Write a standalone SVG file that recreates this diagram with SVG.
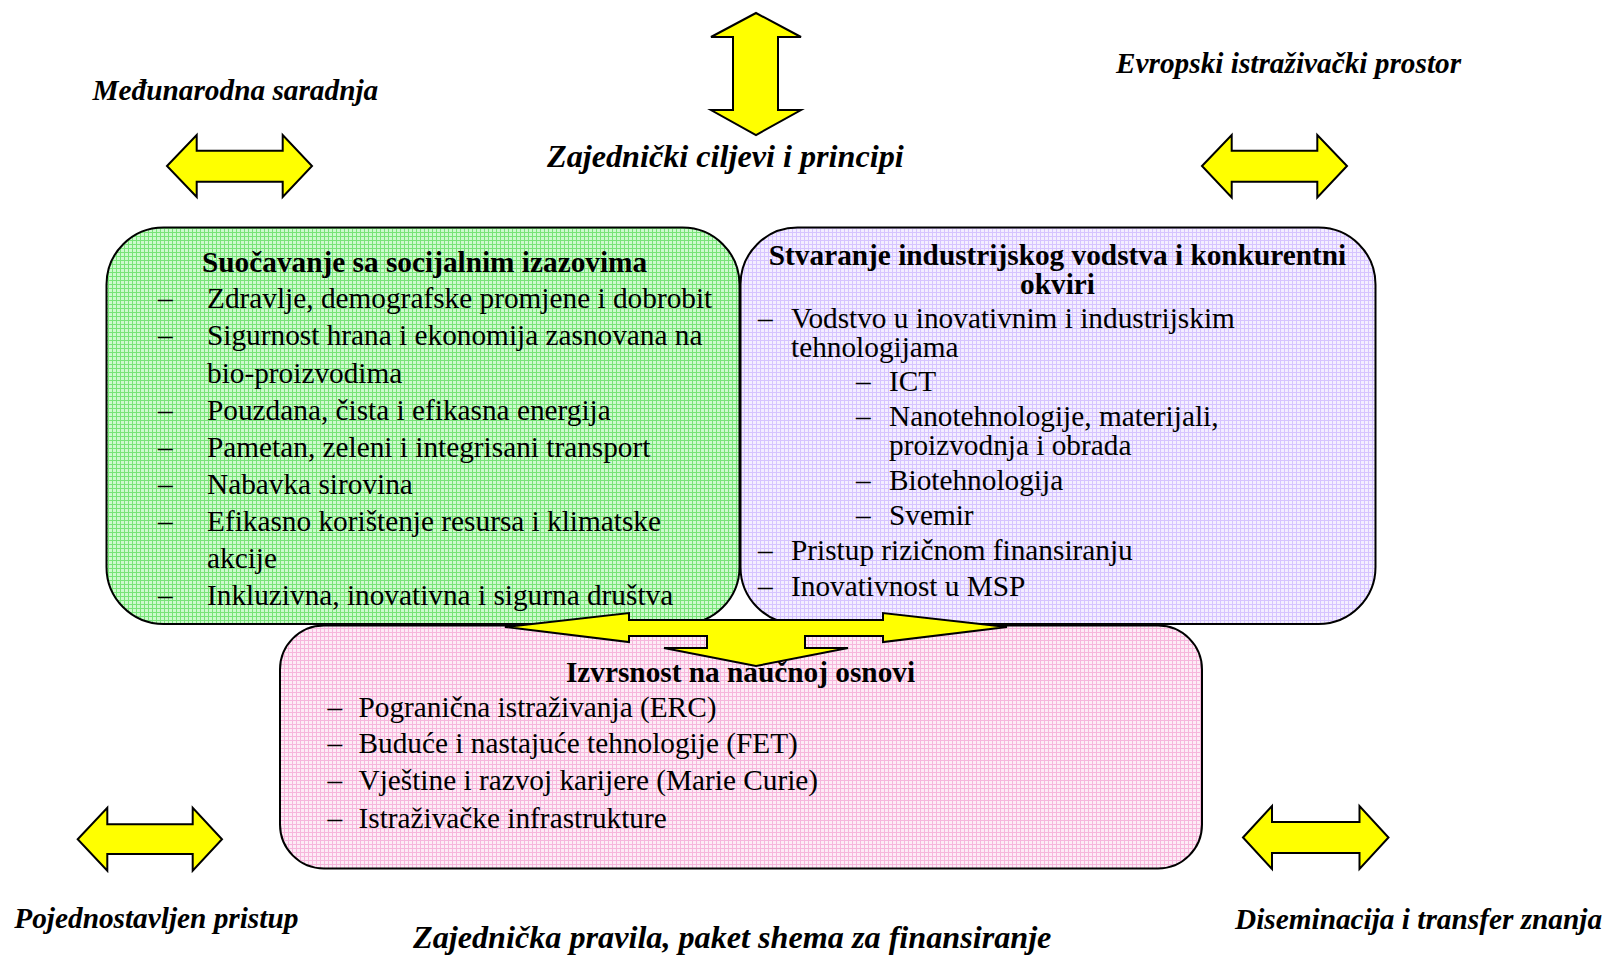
<svg xmlns="http://www.w3.org/2000/svg" width="1606" height="955" viewBox="0 0 1606 955">
<style>
.box{stroke:#000;stroke-width:2}
.t{font-family:"Liberation Serif","Times New Roman",serif;font-size:29.3px;fill:#000}
.b{font-weight:bold}
.lbl{font-family:"Liberation Serif","Times New Roman",serif;font-weight:bold;font-style:italic;font-size:29.3px;fill:#000}
.big{font-size:32.2px}
.arr{fill:#ffff00;stroke:#000;stroke-width:2;stroke-linejoin:miter}
</style>
<defs>
<pattern id="pg" width="4" height="4" patternUnits="userSpaceOnUse">
<rect width="4" height="4" fill="#cdfacd"/>
<path d="M0 0.5H4M0.5 0V4" stroke="#78e478" stroke-width="1" shape-rendering="crispEdges"/>
</pattern>
<pattern id="pp" width="4" height="4" patternUnits="userSpaceOnUse">
<rect width="4" height="4" fill="#f4eeff"/>
<path d="M0 0.5H4M0.5 0V4" stroke="#d6c4ff" stroke-width="1" shape-rendering="crispEdges"/>
</pattern>
<pattern id="pk" width="4" height="4" patternUnits="userSpaceOnUse">
<rect width="4" height="4" fill="#fdecf6"/>
<path d="M0 0.5H4M0.5 0V4" stroke="#f6b6dc" stroke-width="1" shape-rendering="crispEdges"/>
</pattern>
</defs>
<rect width="1606" height="955" fill="#fff"/>

<g id="node-social">
<rect class="box" x="106.5" y="227.5" width="633" height="396.5" rx="57" ry="57" fill="url(#pg)"/>
<text class="t b" x="202" y="272">Suočavanje sa socijalnim izazovima</text>
<g class="t">
<text x="158" y="308.3">–</text><text x="207" y="308.3">Zdravlje, demografske promjene i dobrobit</text>
<text x="158" y="345.4">–</text><text x="207" y="345.4">Sigurnost hrana i ekonomija zasnovana na</text>
<text x="207" y="382.5">bio-proizvodima</text>
<text x="158" y="419.6">–</text><text x="207" y="419.6">Pouzdana, čista i efikasna energija</text>
<text x="158" y="456.7">–</text><text x="207" y="456.7">Pametan, zeleni i integrisani transport</text>
<text x="158" y="493.8">–</text><text x="207" y="493.8">Nabavka sirovina</text>
<text x="158" y="530.9">–</text><text x="207" y="530.9">Efikasno korištenje resursa i klimatske</text>
<text x="207" y="568">akcije</text>
<text x="158" y="605">–</text><text x="207" y="605">Inkluzivna, inovativna i sigurna društva</text>
</g>
</g>

<g id="node-industry">
<rect class="box" x="740.5" y="227.5" width="635" height="396.5" rx="57" ry="57" fill="url(#pp)"/>
<text class="t b" x="1057.5" y="265.3" text-anchor="middle">Stvaranje industrijskog vodstva i konkurentni</text>
<text class="t b" x="1057.5" y="294" text-anchor="middle">okviri</text>
<g class="t">
<text x="758" y="327.8">–</text><text x="791" y="327.8">Vodstvo u inovativnim i industrijskim</text>
<text x="791" y="356.5">tehnologijama</text>
<text x="856" y="390.8">–</text><text x="889" y="390.8">ICT</text>
<text x="856" y="426.2">–</text><text x="889" y="426.2">Nanotehnologije, materijali,</text>
<text x="889" y="454.8">proizvodnja i obrada</text>
<text x="856" y="489.6">–</text><text x="889" y="489.6">Biotehnologija</text>
<text x="856" y="524.5">–</text><text x="889" y="524.5">Svemir</text>
<text x="758" y="559.8">–</text><text x="791" y="559.8">Pristup rizičnom finansiranju</text>
<text x="758" y="595.6">–</text><text x="791" y="595.6">Inovativnost u MSP</text>
</g>
</g>

<g id="node-science">
<rect class="box" x="280" y="625.5" width="922" height="243" rx="44" ry="44" fill="url(#pk)"/>
<text class="t b" x="740.5" y="681.5" text-anchor="middle">Izvrsnost na naučnoj osnovi</text>
<g class="t">
<text x="327.5" y="716.5">–</text><text x="358.5" y="716.5">Pogranična istraživanja (ERC)</text>
<text x="327.5" y="753.4">–</text><text x="358.5" y="753.4">Buduće i nastajuće tehnologije (FET)</text>
<text x="327.5" y="790.2">–</text><text x="358.5" y="790.2">Vještine i razvoj karijere (Marie Curie)</text>
<text x="327.5" y="828">–</text><text x="358.5" y="828">Istraživačke infrastrukture</text>
</g>
</g>

<g id="label-medjunarodna"><text class="lbl" x="92.5" y="99.5">Međunarodna saradnja</text></g>
<g id="label-ciljevi"><text class="lbl big" x="547" y="166.5">Zajednički ciljevi i principi</text></g>
<g id="label-evropski"><text class="lbl" x="1116" y="73">Evropski istraživački prostor</text></g>
<g id="label-pojednostavljen"><text class="lbl" x="14.3" y="927.7">Pojednostavljen pristup</text></g>
<g id="label-diseminacija"><text class="lbl" x="1235" y="929">Diseminacija i transfer znanja</text></g>
<g id="label-pravila"><text class="lbl big" x="413" y="948">Zajednička pravila, paket shema za finansiranje</text></g>

<g id="connectors">
<polygon class="arr" points="756,13 801,37 778,37 778,110 801,110 756,135 711,110 733,110 733,37 711,37"/>
<polygon class="arr" points="167,166 196.7,135 196.7,150.7 282.7,150.7 282.7,135 312,166 282.7,197 282.7,181.7 196.7,181.7 196.7,197"/>
<polygon class="arr" points="1202,166 1231.7,135 1231.7,150.7 1317.3,150.7 1317.3,135 1347,166 1317.3,197.5 1317.3,181.7 1231.7,181.7 1231.7,197.5"/>
<polygon class="arr" points="77.7,839.3 107.3,807.7 107.3,824.3 192.7,824.3 192.7,807.7 222,839.3 192.7,870.7 192.7,854 107.3,854 107.3,870.7"/>
<polygon class="arr" points="1243,837.5 1272,806 1272,822 1359.5,822 1359.5,806 1388.5,837.5 1359.5,869 1359.5,853 1272,853 1272,869"/>
<polygon class="arr" points="505,627 629,613 629,620 883,620 883,613 1007,627 883,642 883,636 805,636 805,648 848,648 756,666 664,648 707,648 707,636 629,636 629,642"/>
</g>
</svg>
